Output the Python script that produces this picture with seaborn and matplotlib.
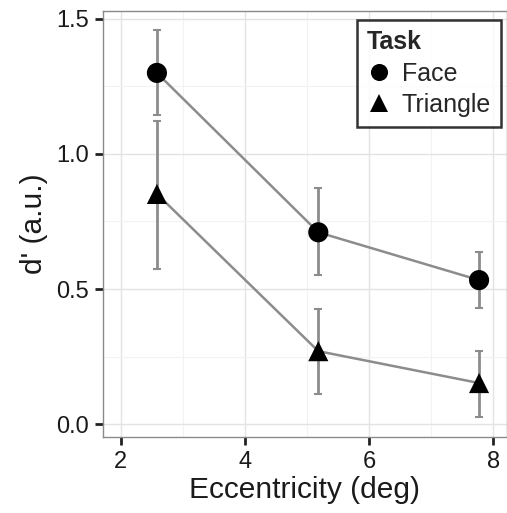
import matplotlib

matplotlib.use("Agg")

import matplotlib.pyplot as plt
import pandas as pd
import seaborn as sns
from matplotlib.ticker import FormatStrFormatter, MultipleLocator

TASKS = ["Face", "Triangle"]
ECCENTRICITY = [2.58, 5.18, 7.77]
FACE_DPRIME = [1.30, 0.71, 0.533]
FACE_LOWER = [1.144, 0.552, 0.43]
FACE_UPPER = [1.46, 0.874, 0.637]
TRIANGLE_DPRIME = [0.852, 0.27, 0.152]
TRIANGLE_LOWER = [0.574, 0.111, 0.026]
TRIANGLE_UPPER = [1.122, 0.426, 0.27]

frame = pd.DataFrame({
    "Eccentricity": ECCENTRICITY * 2,
    "dprime": FACE_DPRIME + TRIANGLE_DPRIME,
    "lower": FACE_LOWER + TRIANGLE_LOWER,
    "upper": FACE_UPPER + TRIANGLE_UPPER,
    "Task": [TASKS[0]] * 3 + [TASKS[1]] * 3,
})

sns.set_theme(style="white")
plt.rcParams["font.family"] = ["Liberation Sans", "DejaVu Sans"]

fig, ax = plt.subplots(figsize=(5.07, 5.13), dpi=100)
fig.subplots_adjust(left=0.203, right=1.0, top=0.979, bottom=0.148)

grey = "#8c8c8c"
for task in TASKS:
    sub = frame[frame["Task"] == task]
    ax.errorbar(sub["Eccentricity"], sub["dprime"],
                yerr=[sub["dprime"] - sub["lower"], sub["upper"] - sub["dprime"]],
                fmt="none", ecolor=grey, elinewidth=2, capsize=3, capthick=1.5, zorder=2)
sns.lineplot(data=frame, x="Eccentricity", y="dprime", units="Task", estimator=None,
             color=grey, linewidth=1.8, ax=ax, zorder=3, legend=False)
sns.scatterplot(data=frame, x="Eccentricity", y="dprime", style="Task",
                markers={"Face": "o", "Triangle": "^"}, color="black",
                s=210, edgecolor="none", ax=ax, zorder=4)

ax.set_xlim(1.71, 8.22)
ax.set_ylim(-0.048, 1.53)
ax.xaxis.set_major_locator(MultipleLocator(2))
ax.xaxis.set_minor_locator(MultipleLocator(1))
ax.yaxis.set_major_locator(MultipleLocator(0.5))
ax.yaxis.set_minor_locator(MultipleLocator(0.25))
ax.yaxis.set_major_formatter(FormatStrFormatter("%.1f"))
ax.grid(which="major", color="#e3e3e3", linewidth=1)
ax.grid(which="minor", color="#f2f2f2", linewidth=0.8)
ax.set_axisbelow(True)
for spine in ax.spines.values():
    spine.set_color("#8a8a8a")
    spine.set_linewidth(1)
ax.tick_params(which="major", direction="out", length=6, width=2, color="#222222",
               labelsize=17, labelcolor="#1a1a1a", left=True, bottom=True, pad=4)
ax.tick_params(which="minor", length=0)
ax.set_xlabel("Eccentricity (deg)", fontsize=21.5, color="#1a1a1a", labelpad=2)
ax.set_ylabel("d' (a.u.)", fontsize=21.5, color="#1a1a1a", labelpad=6)

leg = ax.legend(title="Task", loc="upper right", frameon=True, fancybox=False,
                fontsize=18, title_fontsize=18, borderpad=0.4, handletextpad=0.4,
                handlelength=1.0, labelspacing=0.3, markerscale=0.85,
                borderaxespad=0, bbox_to_anchor=(0.985, 0.978))
leg.get_title().set_fontweight("bold")
leg._legend_box.align = "left"
leg.get_frame().set_edgecolor("black")
leg.get_frame().set_linewidth(1.8)

fig.savefig("out.png", dpi=100)
